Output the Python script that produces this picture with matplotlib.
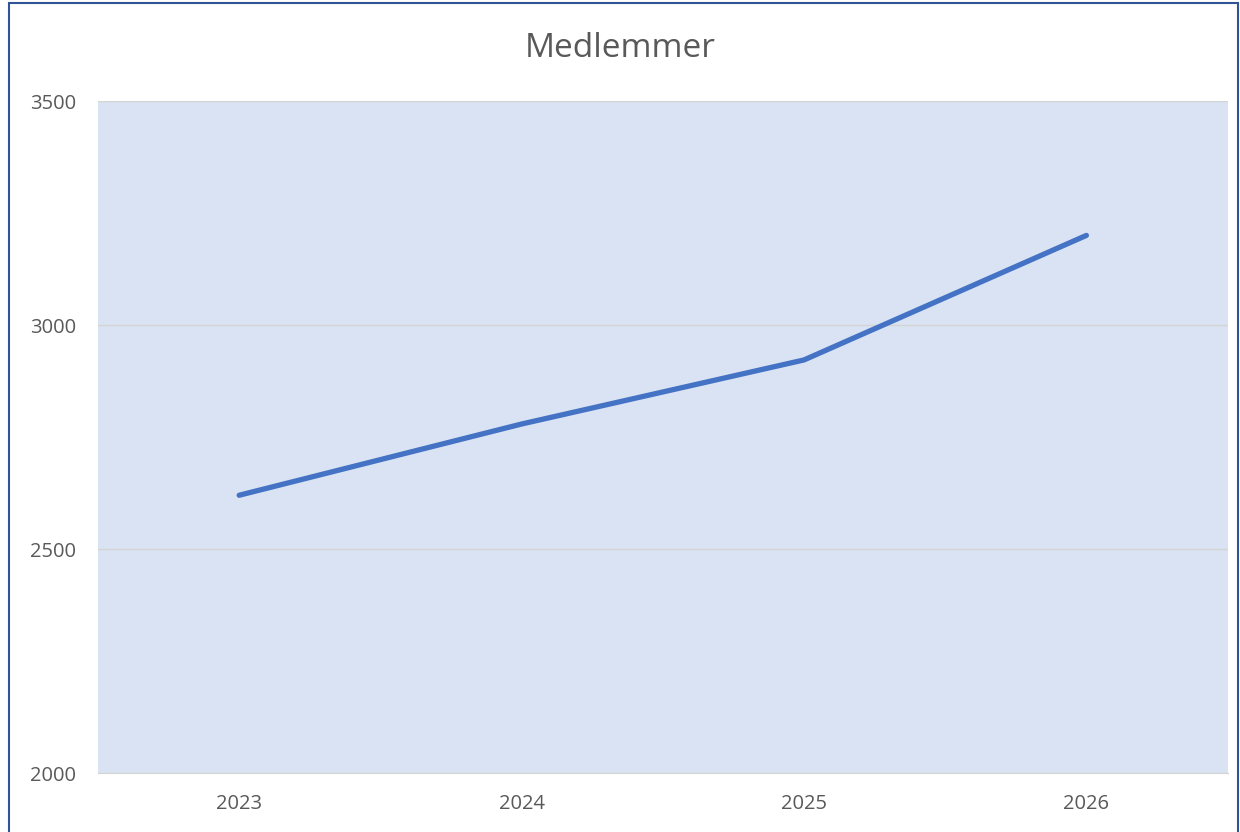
import numpy as np
import matplotlib
matplotlib.use('Agg')
import matplotlib.pyplot as plt
from matplotlib.patches import Rectangle

years = ['2023', '2024', '2025', '2026']
members = [2620, 2779, 2922, 3200]
yticks = [2000, 2500, 3000, 3500]

plt.rcParams['font.family'] = ['Open Sans', 'DejaVu Sans']
text_color = '#595959'

fig = plt.figure(figsize=(12.4, 8.32), dpi=100)
ax = fig.add_axes([0.079, 0.0709, 0.911, 0.8077])

x = np.arange(len(years))
ax.plot(x, members, color='#4472C4', linewidth=3.8, solid_capstyle='round', zorder=3)

ax.set_facecolor('#DAE3F3')
ax.set_xlim(-0.5, len(years) - 0.5)
ax.set_ylim(2000, 3500)
ax.set_xticks(x)
ax.set_xticklabels(years)
ax.set_yticks(yticks)
ax.grid(axis='y', color='#D4D4D4', linewidth=1)
ax.set_axisbelow(True)
for s in ['top', 'right', 'left']:
    ax.spines[s].set_visible(False)
ax.spines['bottom'].set_color('#D4D4D4')
ax.tick_params(length=0, labelsize=14.5, colors=text_color)
ax.tick_params(axis='x', pad=15)
ax.tick_params(axis='y', pad=16)

fig.text(0.5, 0.942, 'Medlemmer', ha='center', va='center', fontsize=24, color=text_color)

# outer border of the chart
fig.patches.append(Rectangle((0.0075, -0.01), 0.991, 1.006, transform=fig.transFigure,
                             fill=False, edgecolor='#2F5597', linewidth=1.5))

fig.savefig('out.png', dpi=100)
